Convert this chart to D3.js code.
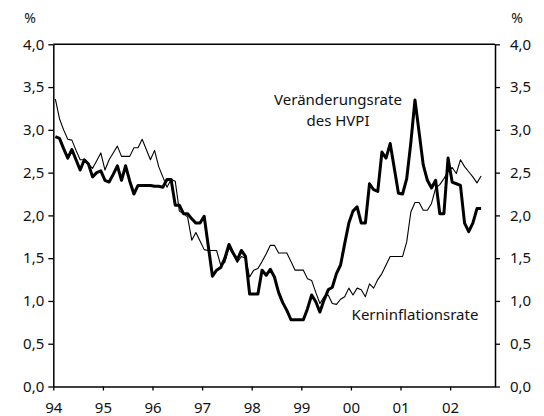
<!DOCTYPE html>
<html><head><meta charset="utf-8">
<script src="https://cdn.jsdelivr.net/npm/d3@7"></script>
<style>
html,body{margin:0;padding:0;background:#fff;}
svg text{font-family:"Noto Sans",sans-serif;fill:#111;}
</style></head>
<body>
<svg id="chart" width="544" height="416"></svg>
<script>
// monthly values from Jan 1994
const startYear = 1994;
const hicp = [
2.92, 2.90, 2.78, 2.67, 2.77, 2.65, 2.53, 2.65, 2.60, 2.45,
2.50, 2.52, 2.41, 2.39, 2.48, 2.58, 2.41, 2.58, 2.40, 2.25,
2.35, 2.35, 2.35, 2.35, 2.34, 2.34, 2.33, 2.42, 2.42, 2.12,
2.12, 2.02, 2.02, 1.96, 1.91, 1.91, 1.99, 1.64, 1.29, 1.36,
1.39, 1.50, 1.66, 1.56, 1.48, 1.59, 1.52, 1.08, 1.08, 1.08,
1.36, 1.30, 1.37, 1.28, 1.10, 0.98, 0.89, 0.78, 0.78, 0.78,
0.78, 0.91, 1.07, 0.99, 0.87, 1.01, 1.13, 1.16, 1.32, 1.42,
1.67, 1.91, 2.05, 2.10, 1.91, 1.91, 2.37, 2.30, 2.28, 2.74,
2.67, 2.84, 2.55, 2.26, 2.25, 2.43, 2.85, 3.35, 2.97, 2.59,
2.41, 2.32, 2.41, 2.02, 2.02, 2.67, 2.39, 2.37, 2.35, 1.91,
1.81, 1.91, 2.08, 2.08
];
const core = [
3.36, 3.13, 3.00, 2.89, 2.88, 2.76, 2.65, 2.65, 2.60, 2.55,
2.64, 2.73, 2.53, 2.65, 2.73, 2.81, 2.69, 2.69, 2.69, 2.79,
2.79, 2.89, 2.77, 2.65, 2.76, 2.57, 2.45, 2.33, 2.42, 2.40,
2.05, 2.02, 1.98, 1.71, 1.80, 1.70, 1.60, 1.59, 1.59, 1.59,
1.42, 1.45, 1.62, 1.55, 1.45, 1.52, 1.50, 1.28, 1.36, 1.38,
1.46, 1.55, 1.65, 1.65, 1.56, 1.56, 1.56, 1.46, 1.36, 1.36,
1.36, 1.26, 1.24, 1.10, 0.97, 1.05, 1.07, 0.97, 0.96, 1.02,
1.05, 1.15, 1.07, 1.15, 1.13, 1.05, 1.20, 1.15, 1.25, 1.32,
1.42, 1.52, 1.52, 1.52, 1.52, 1.69, 2.04, 2.15, 2.15, 2.06,
2.06, 2.14, 2.32, 2.36, 2.43, 2.51, 2.56, 2.49, 2.65, 2.57,
2.51, 2.45, 2.38, 2.46
];
const yearTicks = [1994,1995,1996,1997,1998,1999,2000,2001,2002];
const yearLabels = ["94","95","96","97","98","99","00","01","02"];
const yTicks = [0,0.5,1,1.5,2,2.5,3,3.5,4];
const labelHicp = ["Veränderungsrate","des HVPI"];
const labelCore = "Kerninflationsrate";

const svg = d3.select("#chart");
const L = 53.3, R = 495, T = 44.3, B = 386.5;
const x = d3.scaleLinear().domain([1994, 2002.905]).range([L, R]);
const y = d3.scaleLinear().domain([0, 4]).range([B, T]);
const fmt = v => d3.format(".1f")(v).replace(".", ",");

// frame top
svg.append("line").attr("x1",L).attr("x2",R).attr("y1",T).attr("y2",T)
  .attr("stroke","#000").attr("stroke-width",1.5);

const ax = svg.append("g").attr("transform",`translate(0,${B})`)
  .call(d3.axisBottom(x).tickValues(yearTicks).tickSize(4).tickSizeOuter(0)
    .tickFormat((d,i)=>yearLabels[i]));
const ay = svg.append("g").attr("transform",`translate(${L},0)`)
  .call(d3.axisLeft(y).tickValues(yTicks).tickSize(5).tickSizeOuter(0).tickFormat(fmt));
const ay2 = svg.append("g").attr("transform",`translate(${R},0)`)
  .call(d3.axisRight(y).tickValues(yTicks).tickSize(5).tickSizeOuter(0).tickFormat(fmt));
[ax,ay,ay2].forEach(g=>{
  g.select(".domain").attr("stroke","#000").attr("stroke-width",1.5);
  g.selectAll(".tick line").attr("stroke","#000").attr("stroke-width",1.3);
  g.selectAll("text").attr("font-size",15).attr("font-family","'Noto Sans',sans-serif").attr("fill","#111");
});
ax.selectAll("text").attr("dy",null).attr("y",26);
ay.selectAll("text").attr("x",-9);
ay2.selectAll("text").attr("x",15);

svg.append("text").attr("x",30).attr("y",23).attr("text-anchor","middle").attr("font-size",14).text("%");
svg.append("text").attr("x",517).attr("y",23).attr("text-anchor","middle").attr("font-size",14).text("%");

const line = d3.line().x((d,i)=>x(startYear + (i+0.5)/12)).y(d=>y(d));
svg.append("path").datum(core).attr("d",line).attr("fill","none")
  .attr("stroke","#000").attr("stroke-width",1.1).attr("stroke-linejoin","round");
svg.append("path").datum(hicp).attr("d",line).attr("fill","none")
  .attr("stroke","#000").attr("stroke-width",3).attr("stroke-linejoin","round");

svg.append("text").attr("x",338).attr("y",105).attr("text-anchor","middle").attr("font-size",15).text(labelHicp[0]);
svg.append("text").attr("x",338).attr("y",126).attr("text-anchor","middle").attr("font-size",15).text(labelHicp[1]);
svg.append("text").attr("x",415).attr("y",320).attr("text-anchor","middle").attr("font-size",15).text(labelCore);
</script>
</body></html>
